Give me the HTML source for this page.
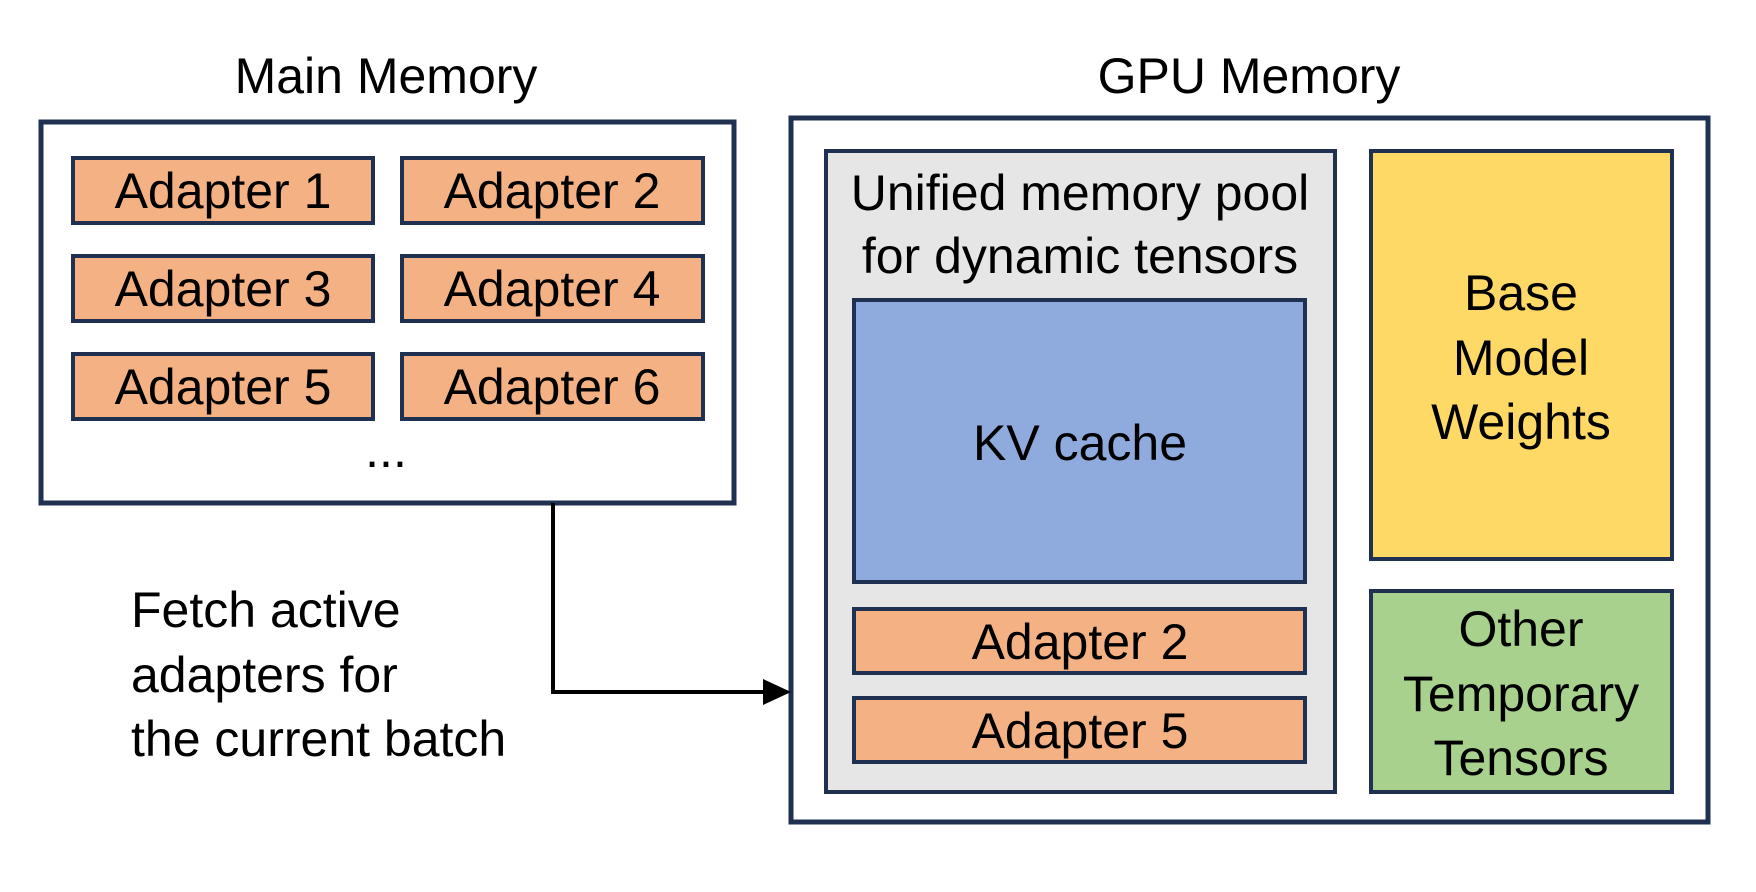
<!DOCTYPE html>
<html><head><meta charset="utf-8"><style>
html,body{margin:0;padding:0;background:#fff;}
svg{display:block;}
text{font-family:"Liberation Sans",sans-serif;fill:#000;}
</style></head><body>
<svg width="1756" height="892" viewBox="0 0 1756 892" xmlns="http://www.w3.org/2000/svg">
<g stroke="#1f3050" stroke-width="5">
<rect x="41" y="122" width="693" height="381" fill="#fff"/>
<rect x="791" y="118" width="917" height="704" fill="#fff"/>
</g>
<g stroke="#1f3050" stroke-width="4" fill="#f4b183">
<rect x="73" y="158" width="300" height="65"/>
<rect x="402" y="158" width="301" height="65"/>
<rect x="73" y="256" width="300" height="65"/>
<rect x="402" y="256" width="301" height="65"/>
<rect x="73" y="354" width="300" height="65"/>
<rect x="402" y="354" width="301" height="65"/>
</g>
<g stroke="#1f3050" stroke-width="4">
<rect x="826" y="151" width="509" height="641" fill="#e7e6e6"/>
<rect x="854" y="300" width="451" height="282" fill="#8faadc"/>
<rect x="854" y="609" width="451" height="64" fill="#f4b183"/>
<rect x="854" y="698" width="451" height="64" fill="#f4b183"/>
<rect x="1371" y="151" width="301" height="408" fill="#ffd966"/>
<rect x="1371" y="591" width="301" height="201" fill="#a9d18e"/>
</g>
<path d="M553 503 V692 H766" fill="none" stroke="#000" stroke-width="4"/>
<polygon points="763,679 791,692 763,705" fill="#000"/>
<g font-size="50" text-anchor="middle" dominant-baseline="central">
<text x="386" y="76">Main Memory</text>
<text x="1249" y="76">GPU Memory</text>
<text x="223" y="191">Adapter 1</text>
<text x="552" y="191">Adapter 2</text>
<text x="223" y="289">Adapter 3</text>
<text x="552" y="289">Adapter 4</text>
<text x="223" y="387">Adapter 5</text>
<text x="552" y="387">Adapter 6</text>
<text x="386" y="450">...</text>
<text x="1080" y="193">Unified memory pool</text>
<text x="1080" y="256">for dynamic tensors</text>
<text x="1080" y="443">KV cache</text>
<text x="1080" y="642">Adapter 2</text>
<text x="1080" y="731">Adapter 5</text>
<text x="1521" y="293">Base</text>
<text x="1521" y="358">Model</text>
<text x="1521" y="422">Weights</text>
<text x="1521" y="629">Other</text>
<text x="1521" y="694">Temporary</text>
<text x="1521" y="758">Tensors</text>
</g>
<g font-size="50" dominant-baseline="central">
<text x="131" y="610">Fetch active</text>
<text x="131" y="675">adapters for</text>
<text x="131" y="739">the current batch</text>
</g>
</svg>
</body></html>
